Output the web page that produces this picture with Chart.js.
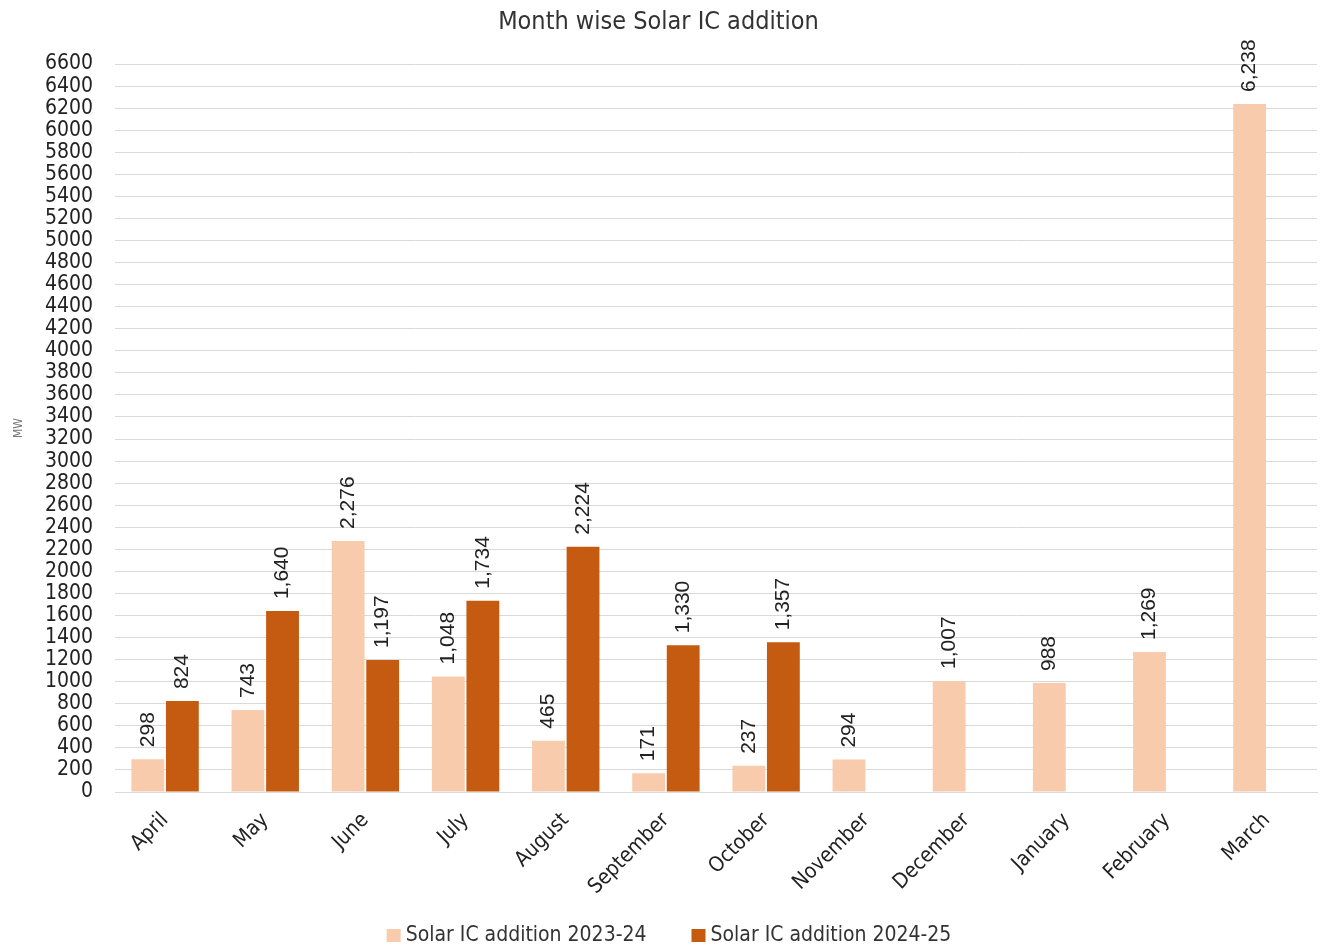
<!DOCTYPE html>
<html>
<head>
<meta charset="utf-8">
<script src="https://cdn.jsdelivr.net/npm/chart.js@4.4.1/dist/chart.umd.min.js"></script>
<style>
html,body{margin:0;padding:0;background:#fff;}
#wrap{width:1322px;height:950px;position:relative;}
</style>
</head>
<body>
<div id="wrap"><canvas id="c" width="1322" height="950"></canvas></div>
<script>
const months = ["April","May","June","July","August","September","October","November","December","January","February","March"];
const ic2023_24 = [298, 743, 2276, 1048, 465, 171, 237, 294, 1007, 988, 1269, 6238];
const ic2024_25 = [824, 1640, 1197, 1734, 2224, 1330, 1357, null, null, null, null, null];
const seriesNames = ["Solar IC addition 2023-24", "Solar IC addition 2024-25"];
const seriesColors = ["#F8CBAD", "#C55A11"];
const yMax = 6600;
const yStep = 200;

const FONT = "'DejaVu Sans Condensed','DejaVu Sans',sans-serif";

const labelPlugin = {
  id: 'barLabels',
  afterDatasetsDraw(chart) {
    const ctx = chart.ctx;
    ctx.save();
    ctx.font = "21px 'Liberation Sans', Arial, sans-serif";
    ctx.fillStyle = '#222';
    ctx.textAlign = 'left';
    ctx.textBaseline = 'middle';
    chart.data.datasets.forEach((ds, di) => {
      const meta = chart.getDatasetMeta(di);
      meta.data.forEach((bar, i) => {
        const v = ds.data[i];
        if (v === null || v === undefined) return;
        ctx.save();
        ctx.translate(bar.x, bar.y - 12);
        ctx.rotate(-Math.PI / 2);
        ctx.fillText(v.toLocaleString('en-US'), 0, 0);
        ctx.restore();
      });
    });
    ctx.restore();
  }
};

const legendPlugin = {
  id: 'customLegend',
  afterDraw(chart) {
    const ctx = chart.ctx;
    ctx.save();
    ctx.font = "21px " + FONT;
    ctx.textBaseline = 'middle';
    ctx.textAlign = 'left';
    const box = 14, gapText = 5, gapItem = 45, cy = 936;
    const items = chart.data.datasets.map(d => ({ text: d.label, color: d.backgroundColor }));
    const widths = items.map(it => box + gapText + ctx.measureText(it.text).width);
    const total = widths.reduce((a, b) => a + b, 0) + gapItem * (items.length - 1);
    let x = 669 - total / 2;
    items.forEach((it, i) => {
      ctx.fillStyle = it.color;
      ctx.fillRect(x, cy - 7, box, 13);
      ctx.fillStyle = '#333';
      ctx.fillText(it.text, x + box + gapText, cy);
      x += widths[i] + gapItem;
    });
    ctx.restore();
  }
};

new Chart(document.getElementById('c'), {
  type: 'bar',
  data: {
    labels: months,
    datasets: [
      { label: seriesNames[0], data: ic2023_24, backgroundColor: seriesColors[0], borderWidth: 0 },
      { label: seriesNames[1], data: ic2024_25, backgroundColor: seriesColors[1], borderWidth: 0 }
    ]
  },
  options: {
    responsive: false,
    animation: false,
    devicePixelRatio: 1,
    datasets: { bar: { categoryPercentage: 0.69, barPercentage: 0.95 } },
    layout: { padding: { left: 0, right: 5, top: 0, bottom: 0 } },
    plugins: {
      title: {
        display: true,
        text: 'Month wise Solar IC addition',
        color: '#333',
        font: { family: FONT, size: 25, weight: 'normal' },
        padding: { top: 7, bottom: 27 }
      },
      legend: { display: false },
      tooltip: { enabled: false }
    },
    scales: {
      x: {
        grid: { display: false, drawTicks: false },
        border: { display: true, color: '#d9d9d9', width: 1 },
        ticks: {
          color: '#222',
          font: { family: FONT, size: 21 },
          maxRotation: 45, minRotation: 45,
          autoSkip: false,
          padding: 16
        },
        afterFit(axis) { axis.height = 158; }
      },
      y: {
        min: 0, max: yMax,
        grid: { color: '#d9d9d9', drawTicks: false },
        border: { display: false },
        ticks: {
          stepSize: yStep,
          autoSkip: false,
          color: '#222',
          font: { family: FONT, size: 21 },
          padding: 22,
          callback: v => String(v)
        },
        title: {
          display: true, text: 'MW', color: '#777',
          font: { family: FONT, size: 12 },
          padding: { top: 12, bottom: 0 }
        },
        afterFit(axis) { axis.width = 115; }
      }
    }
  },
  plugins: [labelPlugin, legendPlugin]
});
</script>
</body>
</html>
